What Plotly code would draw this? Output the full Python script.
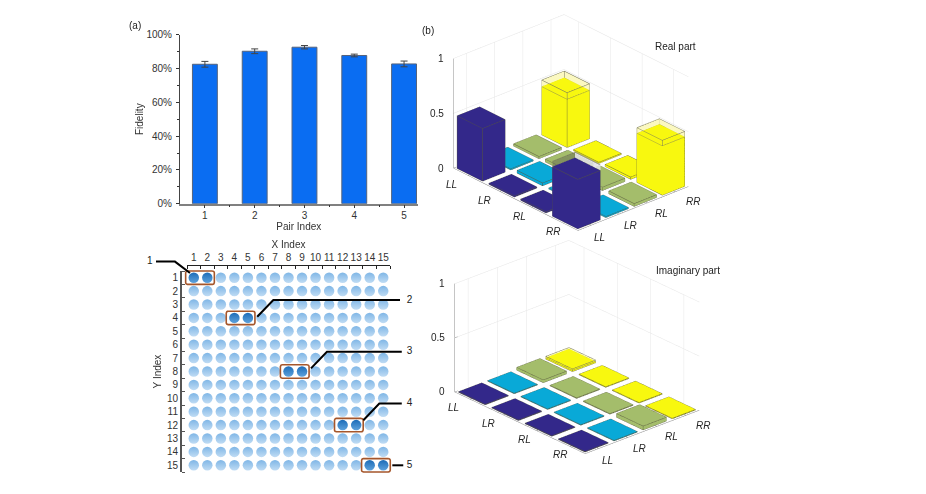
import math
import numpy as np
import plotly.graph_objects as go

W, H = 926, 494
FONT = "Liberation Sans"

# ---- data ----
pair_index = [1, 2, 3, 4, 5]
fidelity = [82.5, 90.2, 92.6, 87.7, 82.7]
fidelity_err = [1.7, 1.4, 1.0, 0.8, 1.7]

grid_index = list(range(1, 16))
pair_x = [(1, 2), (4, 5), (8, 9), (12, 13), (14, 15)]
pair_y = [1, 4, 8, 12, 15]
leader_x = [[-1.79, -0.39, 0.72], [16.24, 6.88, 5.69], [16.37, 10.84, 9.66], [16.37, 14.71, 13.53], [15.67, 16.48]]
leader_y = [[-0.2, -0.2, 0.65], [2.67, 2.67, 3.91], [6.53, 6.53, 7.77], [10.39, 10.39, 11.64], [15, 15]]
label_x = [-2.25, 16.95, 16.95, 16.95, 16.95]
label_y = [-0.2, 2.67, 6.53, 10.39, 15]

basis = ["LL", "LR", "RL", "RR"]
real_part = [[0.48, 0.01, 0.02, 0.44],
             [0.01, 0.025, 0.025, 0.01],
             [0.01, 0.01, 0.03, 0.02],
             [0.45, 0.01, 0.025, 0.45]]
imag_part = [[0.005, 0.005, 0.025, 0.012],
             [0.005, 0.005, 0.005, 0.005],
             [0.005, 0.005, 0.005, 0.005],
             [0.005, 0.005, 0.035, 0.005]]
real_frame = {(0, 3): 0.5, (3, 3): 0.5}
imag_frame = {(0, 3): 0.025}
real_back_frame = {(3, 0): 0.5}
bar_colors = ["#33288a", "#09a9d7", "#a4bd6b", "#f8f80f"]


def xd(a, b):
    return [a / W, b / W]


def yd(top, bottom):
    return [1 - bottom / H, 1 - top / H]


fig = go.Figure()

# ---- (a) fidelity bars ----
fig.add_trace(go.Bar(
    x=pair_index, y=fidelity, width=0.5, xaxis="x", yaxis="y",
    marker=dict(color="#0a6df2", line=dict(color="#55637c", width=1)),
    error_y=dict(type="data", array=fidelity_err, color="#444444", thickness=1, width=3.5),
))

# ---- dots ----
gx, gy = np.meshgrid(grid_index, grid_index)
selected = []
for (a, b), y in zip(pair_x, pair_y):
    selected += [(a, y), (b, y)]
lx = [int(v) for v, w in zip(gx.ravel(), gy.ravel()) if (int(v), int(w)) not in selected]
ly = [int(w) for v, w in zip(gx.ravel(), gy.ravel()) if (int(v), int(w)) not in selected]
fig.add_trace(go.Scatter(
    x=lx, y=ly, mode="markers", xaxis="x2", yaxis="y2", cliponaxis=False,
    marker=dict(size=10.5, color="#7fb6e6", line=dict(width=0),
                gradient=dict(type="vertical", color="#c0dcf4")),
))
fig.add_trace(go.Scatter(
    x=[p[0] for p in selected], y=[p[1] for p in selected], mode="markers", xaxis="x2", yaxis="y2",
    cliponaxis=False,
    marker=dict(size=10.5, color="#1c6cb8", line=dict(width=0),
                gradient=dict(type="vertical", color="#5ea2dc")),
))


def rounded_box(x0, x1, y0, y1, rx=0.14, ry=0.14):
    xs, ys = [], []
    corners = [(x1 - rx, y0 + ry, -90), (x1 - rx, y1 - ry, 0), (x0 + rx, y1 - ry, 90), (x0 + rx, y0 + ry, 180)]
    for cx, cy, start in corners:
        for t in np.linspace(start, start + 90, 5):
            xs.append(cx + rx * math.cos(math.radians(t)))
            ys.append(cy + ry * math.sin(math.radians(t)))
    xs.append(xs[0])
    ys.append(ys[0])
    return xs, ys


for (a, b), y in zip(pair_x, pair_y):
    bx, by = rounded_box(a - 0.6, b + 0.52, y - 0.5, y + 0.5)
    fig.add_trace(go.Scatter(x=bx, y=by, mode="lines", xaxis="x3", yaxis="y3",
                             line=dict(color="#a5562b", width=1.6)))
for xs, ys in zip(leader_x, leader_y):
    fig.add_trace(go.Scatter(x=xs, y=ys, mode="lines", xaxis="x3", yaxis="y3",
                             line=dict(color="#000000", width=2)))
fig.add_trace(go.Scatter(x=label_x, y=label_y, text=[str(i) for i in pair_index], mode="text",
                         xaxis="x3", yaxis="y3", cliponaxis=False,
                         textfont=dict(family=FONT, size=10, color="#222222")))


# ---- 3D bars ----
def cuboid(cx, cy, z0, z1, half=0.4):
    x0, x1, y0, y1 = cx - half, cx + half, cy - half, cy + half
    return [(x0, y0, z0), (x1, y0, z0), (x1, y1, z0), (x0, y1, z0),
            (x0, y0, z1), (x1, y0, z1), (x1, y1, z1), (x0, y1, z1)]


QUADS = [(0, 1, 2, 3), (4, 5, 6, 7), (0, 1, 5, 4), (1, 2, 6, 5), (2, 3, 7, 6), (3, 0, 4, 7)]
EDGES = [(0, 1), (1, 2), (2, 3), (3, 0), (4, 5), (5, 6), (6, 7), (7, 4), (0, 4), (1, 5), (2, 6), (3, 7)]
FAR_A = [(3, 0, 4, 7)]
FAR_B = [(2, 3, 7, 6)]
LO, HI = 0.54, 4.46


def add_mesh(boxes, color, scene, opacity=1.0, quads=QUADS):
    xs, ys, zs, i, j, k = [], [], [], [], [], []
    for vs in boxes:
        n = len(xs)
        xs += [v[0] for v in vs]
        ys += [v[1] for v in vs]
        zs += [v[2] for v in vs]
        for q in quads:
            i += [n + q[0], n + q[0]]
            j += [n + q[1], n + q[2]]
            k += [n + q[2], n + q[3]]
    fig.add_trace(go.Mesh3d(x=xs, y=ys, z=zs, i=i, j=j, k=k, color=color, opacity=opacity, scene=scene,
                            flatshading=True, hoverinfo="skip",
                            lighting=dict(ambient=1, diffuse=0, specular=0, roughness=1, fresnel=0)))


def add_segments(segs, color, width, scene):
    xs, ys, zs = [], [], []
    for p, q in segs:
        xs += [p[0], q[0], None]
        ys += [p[1], q[1], None]
        zs += [p[2], q[2], None]
    fig.add_trace(go.Scatter3d(x=xs, y=ys, z=zs, mode="lines", scene=scene, hoverinfo="skip",
                               line=dict(color=color, width=width)))


def draw_bars(matrix, frames, back_frames, scene):
    edge_segs = []
    for col in range(4):
        boxes = []
        for row in range(4):
            vs = cuboid(row + 1, col + 1, 0, matrix[row][col])
            boxes.append(vs)
            edge_segs += [(vs[a], vs[b]) for a, b in EDGES]
        add_mesh(boxes, bar_colors[col], scene)
    add_segments(edge_segs, "#55553c", 1, scene)
    frame_segs = []
    for (row, col), top in frames.items():
        vs = cuboid(row + 1, col + 1, matrix[row][col], top)
        add_mesh([vs], "#fbf8c0", scene, quads=FAR_A + FAR_B)
        frame_segs += [(vs[a], vs[b]) for a, b in EDGES]
    for (row, col), top in back_frames.items():
        vs = cuboid(row + 1, col + 1, matrix[row][col], top)
        add_mesh([vs], "#e4e4ea", scene, opacity=0.85, quads=FAR_B)
        add_mesh([vs], "#55554a", scene, opacity=0.4, quads=FAR_A)
        frame_segs += [(vs[a], vs[b]) for a, b in [(2, 3), (3, 0), (6, 7), (7, 4), (3, 7)]]
    if frame_segs:
        add_segments(frame_segs, "#77775a", 1, scene)


def draw_box(scene):
    lo, hi = LO, HI
    wall = []
    for z in [0.5, 1.0]:
        wall += [((lo, lo, z), (lo, hi, z)), ((lo, hi, z), (hi, hi, z))]
    for v in [1, 2, 3, 4]:
        wall += [((lo, v, 0), (lo, v, 1)), ((v, hi, 0), (v, hi, 1))]
    add_segments(wall, "#e6e6e6", 1, scene)
    axes = [((lo, lo, 0), (hi, lo, 0)), ((hi, lo, 0), (hi, hi, 0)), ((lo, lo, 0), (lo, lo, 1))]
    for v in [1, 2, 3, 4]:
        axes += [((v, lo, 0), (v, lo + 0.07, 0)), ((hi, v, 0), (hi - 0.07, v, 0))]
    for z in [0, 0.5, 1]:
        axes += [((lo, lo, z), (lo, lo + 0.1, z))]
    add_segments(axes, "#8c8c8c", 1, scene)


def scene_layout(eye_dir, aspect, dist):
    th, psi = map(math.radians, eye_dir)
    txt = dict(family=FONT, size=10, color="#262626")
    notes = []
    left_dx = [-17, -15, -12, -10]
    right_dx = [8.5, 11.5, 14.5, 17.5]
    right_dy = [-12, -11, -10.5, -10]
    for n, lab in enumerate(basis):
        notes.append(dict(x=n + 1, y=LO, z=0, text=f"<i>{lab}</i>", showarrow=False,
                          xshift=left_dx[n], yshift=-8.5, font=txt))
        notes.append(dict(x=HI, y=n + 1, z=0, text=f"<i>{lab}</i>", showarrow=False,
                          xshift=right_dx[n], yshift=right_dy[n], font=txt))
    for z, lab in [(0, "0"), (0.5, "0.5"), (1, "1")]:
        notes.append(dict(x=LO, y=LO, z=z, text=lab, showarrow=False, xanchor="right", xshift=-8, font=txt))
    axis = dict(visible=False, showgrid=False, showbackground=False, zeroline=False)
    return dict(
        aspectmode="manual", aspectratio=dict(x=aspect[0], y=aspect[1], z=aspect[2]),
        xaxis=dict(range=[0.5, 4.5], **axis), yaxis=dict(range=[0.5, 4.5], **axis), zaxis=dict(range=[0, 1], **axis),
        bgcolor="white", annotations=notes,
        camera=dict(projection=dict(type="orthographic"), center=dict(x=0, y=0, z=0), up=dict(x=0, y=0, z=1),
                    eye=dict(x=dist * math.cos(th) * math.cos(psi), y=-dist * math.cos(th) * math.sin(psi),
                             z=dist * math.sin(th))),
    )


draw_box("scene")
draw_bars(real_part, real_frame, real_back_frame, "scene")
draw_box("scene2")
draw_bars(imag_part, imag_frame, {}, "scene2")

tick = dict(family=FONT, size=10, color="#333333")
K = 111.8
DIST = 1.79
layout_notes = [
    dict(text="(a)", x=135 / W, y=1 - 26 / H),
    dict(text="(b)", x=428 / W, y=1 - 30 / H),
    dict(text="Real part", x=675 / W, y=1 - 47 / H),
    dict(text="Imaginary part", x=687.5 / W, y=1 - 270 / H),
]
# pixel frame of the overlay that shares the index scale of the dot grid, so leaders may leave it
ux, uy = (390 - 187) / 15, (472 - 271) / 15
ov_l, ov_r, ov_t, ov_b = 140, 420, 250, 482
fig.update_layout(
    width=W, height=H, margin=dict(l=0, r=0, t=0, b=0, autoexpand=False), paper_bgcolor="white",
    plot_bgcolor="rgba(0,0,0,0)",
    showlegend=False, font=dict(family=FONT, size=10, color="#333333"),
    xaxis=dict(domain=xd(180, 417.5), range=[0.5, 5.27], anchor="y", tickvals=pair_index, ticks="outside",
               ticklen=3, tickcolor="#333333", showgrid=False, zeroline=False, showline=True, linecolor="#808080",
               linewidth=1.5, tickfont=tick, ticklabelstandoff=-1,
               title=dict(text="Pair Index", font=tick, standoff=0),
               minor=dict(tickvals=[1.5, 2.5, 3.5, 4.5], ticks="outside", ticklen=2, tickcolor="#333333")),
    yaxis=dict(domain=yd(34.7, 203.7), range=[0, 100], anchor="x", tickvals=[0, 20, 40, 60, 80, 100],
               ticktext=["0%", "20%", "40%", "60%", "80%", "100%"], ticks="outside", ticklen=3, tickcolor="#333333",
               showgrid=False, zeroline=False, showline=True, linecolor="#444444", linewidth=1, tickfont=tick,
               ticklabelstandoff=2, title=dict(text="Fidelity", font=tick, standoff=0),
               minor=dict(tickvals=[10, 30, 50, 70, 90], ticks="outside", ticklen=2, tickcolor="#333333")),
    xaxis2=dict(domain=xd(187, 390), range=[0.5, 15.5], anchor="free", position=1 - 265 / H, side="top",
                tickvals=grid_index, ticks="", tickangle=0, showgrid=False, zeroline=False, showline=True,
                linecolor="#222222", linewidth=1, tickfont=tick, title=dict(text="X Index", font=tick, standoff=0),
                minor=dict(tickvals=[v + 0.5 for v in [0] + grid_index], ticks="inside", ticklen=3,
                           tickcolor="#222222")),
    yaxis2=dict(domain=yd(271, 472), range=[15.5, 0.5], anchor="free", position=181 / W,
                tickvals=grid_index, ticks="", showgrid=False, zeroline=False, showline=True, linecolor="#555555",
                linewidth=2, tickfont=tick, title=dict(text="Y Index", font=tick, standoff=2),
                minor=dict(tickvals=[v + 0.5 for v in [0] + grid_index], ticks="inside", ticklen=3,
                           tickcolor="#555555")),
    xaxis3=dict(domain=xd(ov_l, ov_r), range=[0.5 + (ov_l - 187) / ux, 0.5 + (ov_r - 187) / ux], visible=False,
                anchor="y3"),
    yaxis3=dict(domain=yd(ov_t, ov_b), range=[0.5 + (ov_b - 271) / uy, 0.5 + (ov_t - 271) / uy], visible=False,
                anchor="x3"),
    scene=dict(domain=dict(x=xd(446, 696), y=yd(10.3, 235.3)),
               **scene_layout((26.5, 41.7), (189.6 / K, 150 / K, 121.8 / K), DIST)),
    scene2=dict(domain=dict(x=xd(452, 702), y=yd(235, 459)),
                **scene_layout((25.1, 41.9), (199 / K, 156 / K, 119.3 / K), DIST)),
    annotations=[dict(xref="paper", yref="paper", showarrow=False, xanchor="center", yanchor="middle",
                      font=dict(family=FONT, size=10, color="#222222"), **n) for n in layout_notes],
)

fig.write_html("out.html", config=dict(displayModeBar=False), post_script="document.body.style.margin='0';")
